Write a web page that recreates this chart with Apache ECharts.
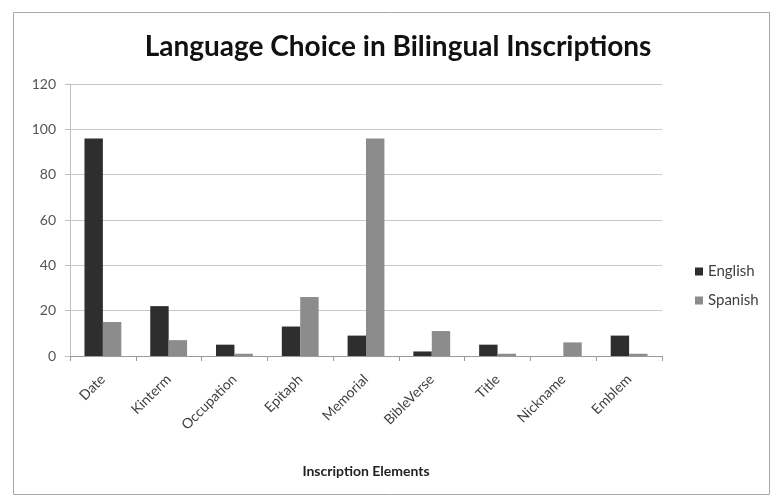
<!DOCTYPE html>
<html>
<head>
<meta charset="utf-8">
<script src="https://cdn.jsdelivr.net/npm/echarts@6/dist/echarts.min.js"></script>
<style>html,body{margin:0;padding:0;background:#fff}#c{width:773px;height:497px}</style>
</head>
<body>
<div id="c"></div>
<script>
const categories = ['Date','Kinterm','Occupation','Epitaph','Memorial','BibleVerse','Title','Nickname','Emblem'];
const english = [96, 22, 5, 13, 9, 2, 5, 0, 9];
const spanish = [15, 7, 1, 26, 96, 11, 1, 6, 1];
const yTicks = {min: 0, max: 120, interval: 20};

const chart = echarts.init(document.getElementById('c'), null, {renderer: 'canvas'});
chart.setOption({
  backgroundColor: '#fff',
  textStyle: {fontFamily: 'Lato'},
  title: {
    text: 'Language Choice in Bilingual Inscriptions',
    left: 393, top: 28, textAlign: 'center',
    textStyle: {fontFamily: 'Lato', fontWeight: 'bold', fontSize: 28, color: '#111'}
  },
  graphic: [{
    type: 'rect', left: 11, top: 10,
    shape: {width: 756, height: 482},
    style: {fill: 'none', stroke: '#a8a8a8', lineWidth: 1}
  }],
  legend: {
    orient: 'vertical', left: 690, top: 259,
    itemWidth: 8, itemHeight: 8, itemGap: 14, icon: 'rect',
    textStyle: {fontSize: 15, color: '#404040'},
    data: ['English', 'Spanish']
  },
  grid: {left: 70, right: 111, top: 84, bottom: 141},
  xAxis: {
    type: 'category', data: categories,
    axisLine: {lineStyle: {color: '#9a9a9a'}},
    axisTick: {show: true, length: 5, lineStyle: {color: '#9a9a9a'}},
    axisLabel: {rotate: 45, fontSize: 14, color: '#404040', margin: 21, interval: 0},
    name: 'Inscription Elements', nameLocation: 'middle', nameGap: 108,
    nameTextStyle: {fontWeight: 'bold', fontSize: 14, color: '#222'}
  },
  yAxis: {
    type: 'value', min: yTicks.min, max: yTicks.max, interval: yTicks.interval,
    axisLine: {show: true, lineStyle: {color: '#c0c0c0'}},
    axisTick: {show: true, length: 5, lineStyle: {color: '#c0c0c0'}},
    axisLabel: {fontSize: 14, color: '#555', margin: 14},
    splitLine: {lineStyle: {color: '#c8c8c8'}}
  },
  series: [
    {name: 'English', type: 'bar', data: english, barGap: '0%', barCategoryGap: '44%',
     itemStyle: {color: '#2e2e2e'}},
    {name: 'Spanish', type: 'bar', data: spanish, barGap: '0%', barCategoryGap: '44%',
     itemStyle: {color: '#8c8c8c'}}
  ]
});
</script>
</body>
</html>
